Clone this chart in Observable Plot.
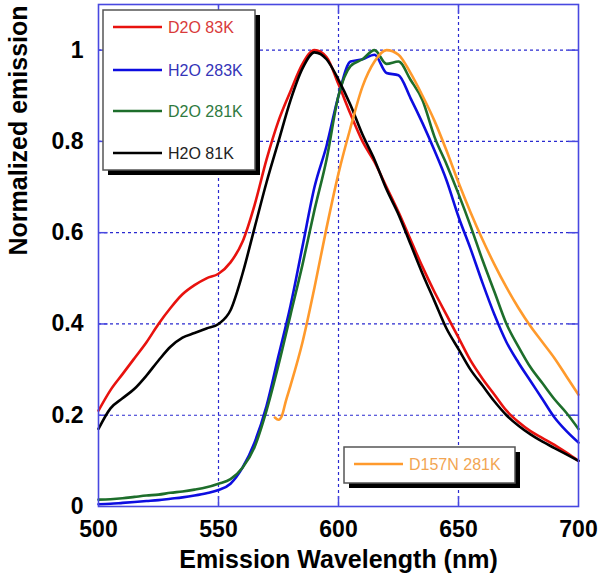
<!DOCTYPE html>
<html>
<head>
<meta charset="utf-8">
<script src="https://cdn.jsdelivr.net/npm/d3@7"></script>
<script src="https://cdn.jsdelivr.net/npm/@observablehq/plot@0.6"></script>
<style>
  html, body { margin: 0; padding: 0; background: #fff; }
  #chart { position: relative; width: 601px; height: 581px; }
</style>
</head>
<body>
<div id="chart"></div>
<script>
// ---- Data ----
const wl = [500,505,510,515,520,525,530,535,540,545,550,555,560,565,570,575,580,585,590,595,600,605,610,615,620,625,630,635,640,645,650,655,660,665,670,675,680,685,690,695,700];

const d2o83K = [0.21,0.255,0.29,0.325,0.36,0.40,0.435,0.465,0.485,0.50,0.51,0.535,0.58,0.66,0.76,0.845,0.91,0.97,1.0,0.985,0.925,0.86,0.80,0.755,0.70,0.645,0.585,0.525,0.47,0.42,0.37,0.32,0.28,0.245,0.21,0.185,0.165,0.15,0.135,0.118,0.10];

const h2o81K = [0.17,0.215,0.237,0.258,0.287,0.32,0.35,0.37,0.38,0.39,0.40,0.43,0.51,0.61,0.71,0.80,0.89,0.96,0.995,0.98,0.935,0.88,0.815,0.76,0.695,0.64,0.575,0.51,0.45,0.39,0.345,0.30,0.265,0.23,0.20,0.177,0.158,0.142,0.128,0.114,0.10];

const h2o283K = [0.005,0.006,0.008,0.010,0.012,0.014,0.017,0.020,0.024,0.029,0.036,0.05,0.085,0.14,0.22,0.33,0.44,0.57,0.70,0.79,0.90,0.975,0.98,0.99,0.95,0.945,0.895,0.84,0.78,0.715,0.635,0.565,0.49,0.42,0.36,0.315,0.275,0.235,0.195,0.165,0.14];

const d2o281K = [0.015,0.016,0.018,0.021,0.024,0.026,0.03,0.033,0.037,0.042,0.05,0.06,0.085,0.13,0.21,0.31,0.42,0.53,0.65,0.76,0.90,0.965,0.98,1.0,0.97,0.975,0.935,0.89,0.81,0.75,0.685,0.615,0.54,0.47,0.40,0.35,0.305,0.27,0.235,0.205,0.17];

const wlD157N = [573.5,575,576.5,578,580,585,590,595,600,605,610,615,620,625,630,635,640,645,650,655,660,665,670,675,680,685,690,695,700];
const d157N281K = [0.195,0.19,0.20,0.23,0.265,0.36,0.48,0.61,0.73,0.83,0.92,0.975,1.0,0.99,0.95,0.90,0.845,0.78,0.71,0.645,0.585,0.53,0.48,0.435,0.395,0.36,0.325,0.285,0.245];

const seriesNames = ["D2O 83K", "H2O 283K", "D2O 281K", "H2O 81K", "D157N 281K"];
const lineColors = ["#e8120e", "#0d0de0", "#1d6e2b", "#000000", "#ff9a2c"];
const textColors = ["#d93a3a", "#3434b8", "#2f7a40", "#222222", "#f2a552"];

const xTicks = [500, 550, 600, 650, 700];
const yTicks = [0, 0.2, 0.4, 0.6, 0.8, 1];
const xGrid = [550, 600, 650];
const yGrid = [0.2, 0.4, 0.6, 0.8, 1];
const xTitle = "Emission Wavelength (nm)";
const yTitle = "Normalized emission";

const frameColor = "#4848e0";
const gridColor = "#2a2ad0";

const lineOpts = (xs, ys, i) => Plot.line(xs, {x: xs, y: ys, stroke: lineColors[i], strokeWidth: 2.6, curve: "monotone-x"});

const chart = Plot.plot({
  width: 601,
  height: 581,
  marginLeft: 98,
  marginRight: 23,
  marginTop: 4,
  marginBottom: 75,
  x: {domain: [500, 700]},
  y: {domain: [0, 1.1]},
  style: {fontFamily: "'Liberation Sans', Arial, sans-serif", fontWeight: "bold", background: "#fff", color: "#000"},
  marks: [
    Plot.gridX(xGrid, {stroke: gridColor, strokeOpacity: 1, strokeWidth: 1.2, strokeDasharray: "3,3"}),
    Plot.gridY(yGrid, {stroke: gridColor, strokeOpacity: 1, strokeWidth: 1.2, strokeDasharray: "3,3"}),
    Plot.ruleX(xGrid, {y1: 0, y2: 0.022, stroke: frameColor, strokeWidth: 1.5}),
    Plot.ruleX(xGrid, {y1: 1.1, y2: 1.078, stroke: frameColor, strokeWidth: 1.5}),
    Plot.ruleY(yGrid, {x1: 500, x2: 504, stroke: frameColor, strokeWidth: 1.5}),
    Plot.ruleY(yGrid, {x1: 700, x2: 696, stroke: frameColor, strokeWidth: 1.5}),
    lineOpts(wl, d2o83K, 0),
    lineOpts(wl, h2o283K, 1),
    lineOpts(wl, d2o281K, 2),
    lineOpts(wl, h2o81K, 3),
    lineOpts(wlD157N, d157N281K, 4),
    Plot.frame({stroke: frameColor, strokeWidth: 1.6}),
    Plot.axisX(xTicks, {tickSize: 0, tickPadding: 14, fontSize: 23, label: null}),
    Plot.axisY(yTicks, {tickSize: 0, tickPadding: 15, fontSize: 23, label: null, tickFormat: d => String(d)}),
    Plot.text([xTitle], {frameAnchor: "bottom", dy: 61, fontSize: 25, fontWeight: "bold"}),
    Plot.text([yTitle], {frameAnchor: "left", dx: -80, rotate: -90, fontSize: 25, fontWeight: "bold"})
  ]
});

document.getElementById("chart").appendChild(chart);

// ---- Legends (drawn into the same SVG) ----
const svg = d3.select(chart);
function legendBox(x, y, w, h, entries, rowYs) {
  const g = svg.append("g")
    .attr("font-family", "'Liberation Sans', Arial, sans-serif")
    .attr("font-weight", "normal")
    .attr("text-anchor", "start");
  g.append("rect").attr("x", x + 5).attr("y", y + 5).attr("width", w).attr("height", h).attr("fill", "#000");
  g.append("rect").attr("x", x).attr("y", y).attr("width", w).attr("height", h).attr("fill", "#fff").attr("stroke", "#555").attr("stroke-width", 1.5);
  entries.forEach((i, k) => {
    const ry = rowYs[k];
    g.append("line").attr("x1", x + 10).attr("x2", x + 59).attr("y1", ry).attr("y2", ry)
      .attr("stroke", lineColors[i]).attr("stroke-width", 2.5);
    g.append("text").attr("x", x + 65).attr("y", ry).attr("dy", "0.35em")
      .attr("text-anchor", "start")
      .attr("font-size", 16).attr("fill", textColors[i]).text(seriesNames[i]);
  });
}
legendBox(103, 10, 152, 160, [0, 1, 2, 3], [27, 70, 111, 153]);
legendBox(344, 447, 171, 36, [4], [464]);
</script>
</body>
</html>
